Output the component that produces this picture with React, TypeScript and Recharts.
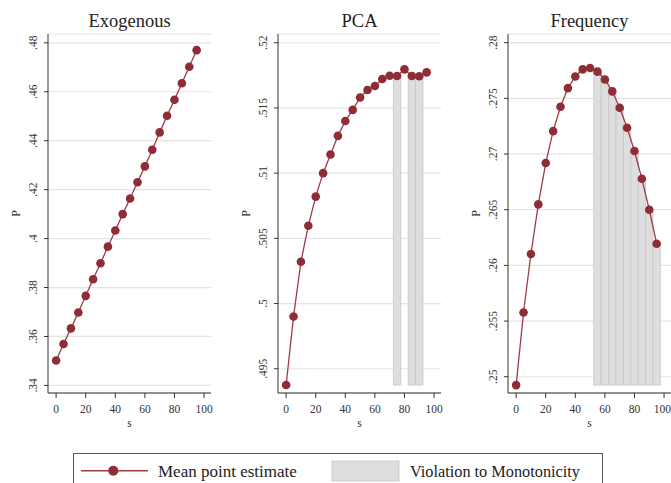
import { ComposedChart, Line, XAxis, YAxis, CartesianGrid, ReferenceArea } from "recharts";

const FONT = '"Liberation Serif", "DejaVu Serif", serif';
const MAROON = "#8f2d36";
const LINE = "#9b3d45";

// s grid shared by all three panels
const sValues = [0, 5, 10, 15, 20, 25, 30, 35, 40, 45, 50, 55, 60, 65, 70, 75, 80, 85, 90, 95];
const sTicks = [0, 20, 40, 60, 80, 100];

const exogenousP = [0.3502, 0.3569, 0.3633, 0.3698, 0.3766, 0.3834, 0.3899, 0.3967, 0.4033, 0.41, 0.4164, 0.423, 0.4295, 0.4363, 0.4434, 0.4502, 0.4567, 0.4635, 0.4702, 0.477];
const pcaP = [0.49375, 0.499, 0.5032, 0.50597, 0.5082, 0.51, 0.51143, 0.51286, 0.514, 0.51485, 0.5158, 0.51638, 0.51668, 0.51722, 0.51747, 0.51745, 0.51796, 0.51745, 0.51743, 0.51773];
const frequencyP = [0.24925, 0.25577, 0.26102, 0.26548, 0.26919, 0.27206, 0.27425, 0.27592, 0.27697, 0.2776, 0.27772, 0.2774, 0.2767, 0.27563, 0.27416, 0.27236, 0.27027, 0.26778, 0.265, 0.26195];

// s values where the estimate drops (shaded)
const exogenousViolations: number[] = [];
const pcaViolations = [75, 85, 90];
const frequencyViolations = [55, 60, 65, 70, 75, 80, 85, 90, 95];

const exogenousTicks = [0.34, 0.36, 0.38, 0.4, 0.42, 0.44, 0.46, 0.48];
const pcaTicks = [0.495, 0.5, 0.505, 0.51, 0.515, 0.52];
const frequencyTicks = [0.25, 0.255, 0.26, 0.265, 0.27, 0.275, 0.28];

const fmt = (v: number) => String(v).replace(/^0/, "");

function YTick({ x, y, payload }: any) {
  return (
    <text x={x} y={y} transform={`rotate(-90 ${x} ${y})`} textAnchor="middle" fontSize={11.5} fill="#333" fontFamily={FONT}>
      {fmt(payload.value)}
    </text>
  );
}

type PanelProps = {
  left: number;
  width: number;
  marginRight: number;
  title: string;
  values: number[];
  yDomain: [number, number];
  yTicks: number[];
  violations: number[];
};

function Panel({ left, width, marginRight, title, values, yDomain, yTicks, violations }: PanelProps) {
  const data = sValues.map((s, i) => ({ s, p: values[i] }));
  const floor = Math.min(...values);
  const plotLeft = left + 48;
  const plotWidth = width - 48 - marginRight;
  return (
    <>
      <div style={{ position: "absolute", left: plotLeft, top: 11.5, width: plotWidth, textAlign: "center", fontFamily: FONT, fontSize: 18.5, lineHeight: "18px", color: "#222" }}>
        {title}
      </div>
      <div style={{ position: "absolute", left, top: 0 }}>
        <ComposedChart width={width} height={440} data={data} margin={{ top: 34, right: marginRight, left: 0, bottom: 0 }}>
          <CartesianGrid vertical={false} stroke="#e4e4e4" strokeWidth={1.2} />
          {violations.map((s) => (
            <ReferenceArea
              key={s}
              x1={s - 2.5}
              x2={s + 2.5}
              y1={floor}
              y2={values[sValues.indexOf(s)]}
              fill="#dedede"
              fillOpacity={1}
              stroke="#c6c6c6"
              strokeWidth={0.8}
            />
          ))}
          <XAxis
            dataKey="s"
            type="number"
            domain={[-5.5, 104.7]}
            ticks={sTicks}
            height={47}
            tickSize={5}
            tickMargin={7}
            stroke="#333"
            tick={{ fontSize: 11.5, fill: "#333", fontFamily: FONT }}
            label={({ viewBox }: any) => (
              <text x={viewBox.x + viewBox.width / 2} y={viewBox.y + 33.5} textAnchor="middle" fontSize={11.5} fill="#333" fontFamily={FONT}>
                s
              </text>
            )}
          />
          <XAxis xAxisId="top" orientation="top" type="number" domain={[0, 1]} height={0} tick={false} tickLine={false} axisLine={{ stroke: "#8a8a8a" }} />
          <YAxis
            type="number"
            domain={yDomain}
            ticks={yTicks}
            width={48}
            tickSize={4}
            tickMargin={7}
            stroke="#333"
            tick={<YTick />}
            interval={0}
            allowDataOverflow
            label={({ viewBox }: any) => {
              const cx = 20;
              const cy = viewBox.y + viewBox.height / 2;
              return (
                <text x={cx} y={cy} transform={`rotate(-90 ${cx} ${cy})`} textAnchor="middle" fontSize={12} fill="#333" fontFamily={FONT}>
                  P
                </text>
              );
            }}
          />
          <YAxis yAxisId="right" orientation="right" type="number" domain={[0, 1]} width={0} tick={false} tickLine={false} axisLine={{ stroke: "#9a9a9a" }} />
          <Line
            dataKey="p"
            stroke={LINE}
            strokeWidth={1.3}
            dot={{ r: 4.3, fill: MAROON, stroke: MAROON, strokeWidth: 0 }}
            isAnimationActive={false}
          />
        </ComposedChart>
      </div>
    </>
  );
}

export default function App() {
  return (
    <div style={{ position: "absolute", left: 0, top: 0, width: 671, height: 483, overflow: "hidden", background: "#fff" }}>
      <Panel left={0} width={230} marginRight={19} title="Exogenous" values={exogenousP} yDomain={[0.3369, 0.4836]} yTicks={exogenousTicks} violations={exogenousViolations} />
      <Panel left={230} width={230} marginRight={19} title="PCA" values={pcaP} yDomain={[0.49314, 0.52067]} yTicks={pcaTicks} violations={pcaViolations} />
      <Panel left={460} width={211} marginRight={0} title="Frequency" values={frequencyP} yDomain={[0.24854, 0.28078]} yTicks={frequencyTicks} violations={frequencyViolations} />

      <div style={{ position: "absolute", left: 73, top: 453, width: 530, height: 45, border: "1px solid #555", boxSizing: "border-box" }} />
      <svg style={{ position: "absolute", left: 0, top: 0 }} width={671} height={483}>
        <line x1={81} x2={148} y1={470.7} y2={470.7} stroke={LINE} strokeWidth={1.5} />
        <circle cx={113.3} cy={470.7} r={5} fill={MAROON} />
        <rect x={332} y={461} width={67} height={20} fill="#dedede" stroke="#c6c6c6" strokeWidth={0.8} />
      </svg>
      <div style={{ position: "absolute", left: 158, top: 462.5, fontFamily: FONT, fontSize: 17, lineHeight: "17px", color: "#222", whiteSpace: "nowrap" }}>
        Mean point estimate
      </div>
      <div style={{ position: "absolute", left: 410, top: 462.5, fontFamily: FONT, fontSize: 16.3, lineHeight: "17px", color: "#222", whiteSpace: "nowrap" }}>
        Violation to Monotonicity
      </div>
    </div>
  );
}
